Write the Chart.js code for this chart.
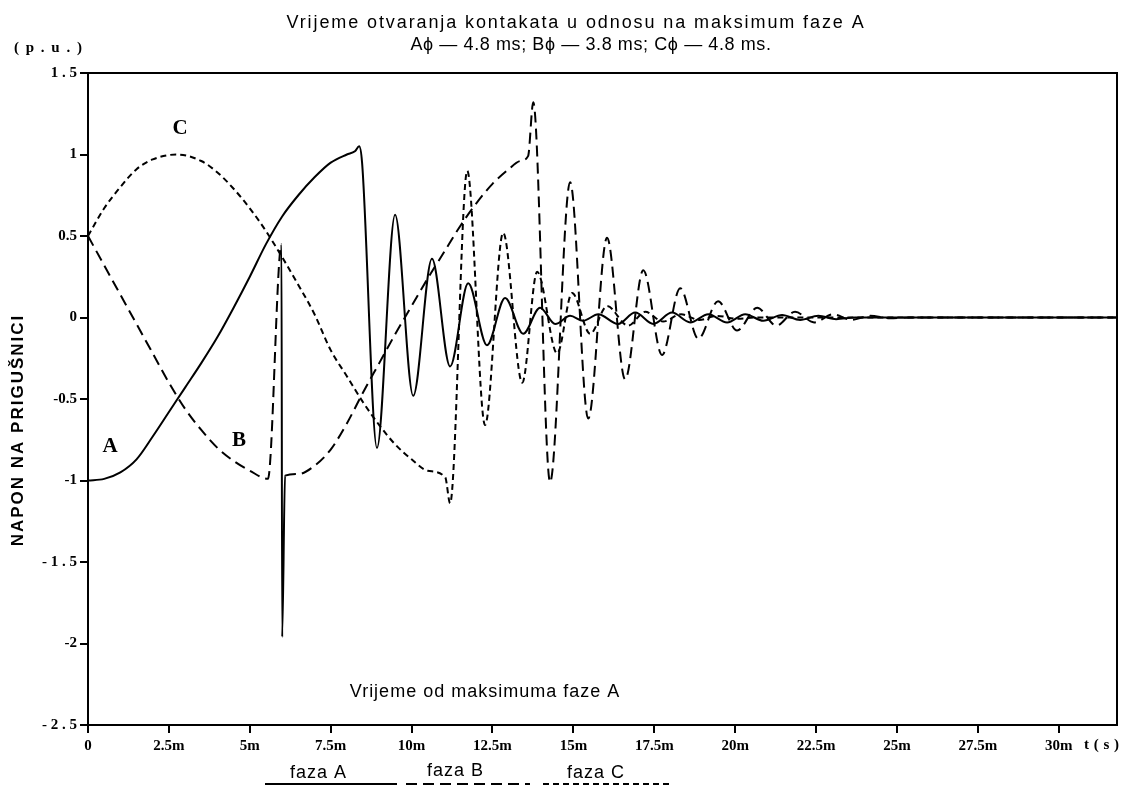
<!DOCTYPE html>
<html>
<head>
<meta charset="utf-8">
<script src="https://cdn.jsdelivr.net/npm/chart.js@4/dist/chart.umd.min.js"></script>
<style>
  body { margin: 0; background: #fff; }
  #wrap { width: 1126px; height: 787px; }
</style>
</head>
<body>
<div id="wrap"><canvas id="myChart" width="1126" height="787"></canvas></div>
<script>
// time axis in ms, voltage in p.u.
var tA = [0, 0.5, 1.0, 1.5, 2.0, 2.5, 3.0, 3.5, 4.0, 4.5, 5.0, 5.5, 6.0, 6.5, 7.0, 7.5, 8.0, 8.25, 8.38, 8.47, 8.93, 9.49, 10.05, 10.63, 11.19, 11.75, 12.33, 12.89, 13.45, 13.97, 14.44, 14.9, 15.3, 15.77, 16.38, 16.91, 17.47, 18.05, 18.61, 19.17, 19.75, 20.31, 20.87, 21.45, 22.01, 22.57, 23.12, 23.71, 31.8];
var vA = [-1, -0.99, -0.95, -0.87, -0.73, -0.58, -0.43, -0.28, -0.12, 0.06, 0.25, 0.45, 0.62, 0.75, 0.86, 0.95, 1.0, 1.02, 1.05, 0.95, -0.8, 0.63, -0.48, 0.36, -0.3, 0.21, -0.17, 0.12, -0.1, 0.06, -0.04, 0.01, -0.02, 0.02, -0.04, 0.03, -0.04, 0.03, -0.03, 0.02, -0.03, 0.02, -0.02, 0.015, -0.015, 0.01, -0.01, 0, 0];

var tB = [0, 0.5, 1.0, 1.5, 2.0, 2.5, 3.0, 3.5, 4.0, 4.5, 5.0, 5.56, 5.98, 6.0, 6.09, 6.5, 7.0, 7.5, 8.0, 8.5, 9.0, 9.5, 10.0, 10.5, 11.0, 11.5, 12.0, 12.5, 13.0, 13.35, 13.6, 13.76, 14.28, 14.9, 15.46, 16.04, 16.6, 17.16, 17.74, 18.3, 18.86, 19.47, 20.06, 20.68, 21.27, 21.85, 22.44, 23.03, 23.59, 24.17, 24.79, 25.41, 31.8];
var vB = [0.5, 0.32, 0.14, -0.04, -0.22, -0.4, -0.56, -0.69, -0.8, -0.88, -0.94, -0.99, 0.45, -1.96, -0.97, -0.96, -0.91, -0.81, -0.65, -0.46, -0.28, -0.1, 0.07, 0.24, 0.4, 0.56, 0.7, 0.82, 0.91, 0.96, 0.99, 1.32, -1.01, 0.83, -0.62, 0.49, -0.38, 0.29, -0.23, 0.18, -0.13, 0.1, -0.08, 0.06, -0.05, 0.035, -0.03, 0.02, -0.015, 0.01, -0.005, 0, 0];

var tC = [0, 0.5, 1.0, 1.5, 2.0, 2.75, 3.5, 4.0, 4.5, 5.0, 5.5, 6.0, 6.5, 7.0, 7.5, 8.0, 8.5, 9.0, 9.5, 10.0, 10.5, 11.04, 11.19, 11.72, 12.27, 12.83, 13.42, 13.88, 14.5, 14.96, 15.52, 16.04, 16.69, 17.22, 17.77, 18.33, 18.89, 19.44, 20.06, 20.68, 31.8];
var vC = [0.5, 0.67, 0.8, 0.91, 0.97, 1.0, 0.96, 0.89, 0.79, 0.67, 0.53, 0.37, 0.2, 0.02, -0.2, -0.36, -0.52, -0.66, -0.78, -0.87, -0.94, -0.98, -1.14, 0.9, -0.66, 0.52, -0.4, 0.28, -0.22, 0.15, -0.1, 0.07, -0.05, 0.035, -0.025, 0.02, -0.015, 0.01, -0.008, 0, 0];

var xTicks = [0, 2.5, 5, 7.5, 10, 12.5, 15, 17.5, 20, 22.5, 25, 27.5, 30];
var xLabels = ['0', '2.5m', '5m', '7.5m', '10m', '12.5m', '15m', '17.5m', '20m', '22.5m', '25m', '27.5m', '30m'];
var yLabels = ['- 2 . 5', '-2', '- 1 . 5', '-1', '-0.5', '0', '0.5', '1', '1 . 5'];

function pts(t, v) {
  return t.map(function (x, i) { return { x: x, y: v[i] }; });
}

var tickFont = { family: '"Liberation Serif", "DejaVu Serif", serif', size: 15, weight: 'bold' };

// texts, frame and legend
var decor = {
  id: 'decor',
  afterDraw: function (chart) {
    var ctx = chart.ctx, a = chart.chartArea;
    ctx.save();
    ctx.strokeStyle = '#000';
    ctx.lineWidth = 2;
    ctx.strokeRect(a.left, a.top, a.right - a.left, a.bottom - a.top);

    ctx.fillStyle = '#000';
    ctx.textBaseline = 'middle';
    ctx.textAlign = 'center';
    ctx.font = '18px "Liberation Sans", Arial, sans-serif';
    ctx.letterSpacing = '1.9px';
    ctx.fillText('Vrijeme otvaranja kontakata u odnosu na maksimum faze A', 576, 23);
    ctx.letterSpacing = '0.6px';
    ctx.fillText('A\u03d5 \u2014 4.8 ms; B\u03d5 \u2014 3.8 ms; C\u03d5 \u2014 4.8 ms.', 591, 45);
    ctx.letterSpacing = '1px';
    ctx.fillText('Vrijeme od maksimuma faze A', 485, 692);

    ctx.textAlign = 'left';
    ctx.fillText('faza A', 290, 773);
    ctx.fillText('faza B', 427, 771);
    ctx.fillText('faza C', 567, 773);

    ctx.font = 'bold 15px "Liberation Serif", serif';
    ctx.letterSpacing = '1.5px';
    ctx.fillText('( p . u . )', 14, 48);
    ctx.letterSpacing = '0.5px';
    ctx.fillText('t ( s )', 1084, 745);
    ctx.letterSpacing = '0px';

    ctx.textAlign = 'center';
    ctx.font = 'bold 21px "Liberation Serif", serif';
    ctx.fillText('A', 110, 447);
    ctx.fillText('B', 239, 441);
    ctx.fillText('C', 180, 129);

    ctx.save();
    ctx.translate(18, 430);
    ctx.rotate(-Math.PI / 2);
    ctx.font = 'bold 17px "Liberation Sans", Arial, sans-serif';
    ctx.letterSpacing = '2px';
    ctx.fillText('NAPON NA PRIGUŠNICI', 0, 0);
    ctx.restore();

    // legend lines
    ctx.lineWidth = 2;
    ctx.beginPath(); ctx.setLineDash([]); ctx.moveTo(265, 784); ctx.lineTo(397, 784); ctx.stroke();
    ctx.beginPath(); ctx.setLineDash([11, 6]); ctx.moveTo(406, 784); ctx.lineTo(530, 784); ctx.stroke();
    ctx.beginPath(); ctx.setLineDash([6, 4]); ctx.moveTo(543, 784); ctx.lineTo(670, 784); ctx.stroke();
    ctx.restore();
  }
};

var config = {
  type: 'line',
  data: {
    datasets: [
      {
        label: 'faza A',
        data: pts(tA, vA),
        borderColor: '#000',
        borderWidth: 2,
        pointRadius: 0,
        cubicInterpolationMode: 'monotone'
      },
      {
        label: 'faza B',
        data: pts(tB, vB),
        borderColor: '#000',
        borderWidth: 2,
        borderDash: [11, 6],
        pointRadius: 0,
        cubicInterpolationMode: 'monotone',
        segment: {
          // the spike down to -2 is drawn solid
          borderDash: function (c) {
            return (c.p0.parsed.y < -1.5 || c.p1.parsed.y < -1.5) ? [] : undefined;
          }
        }
      },
      {
        label: 'faza C',
        data: pts(tC, vC),
        borderColor: '#000',
        borderWidth: 2,
        borderDash: [6, 4],
        pointRadius: 0,
        cubicInterpolationMode: 'monotone'
      }
    ]
  },
  options: {
    responsive: false,
    animation: false,
    layout: { padding: { top: 73, right: 9, left: 0, bottom: 0 } },
    plugins: {
      legend: { display: false },
      tooltip: { enabled: false }
    },
    scales: {
      x: {
        type: 'linear',
        min: 0,
        max: 31.8,
        afterBuildTicks: function (axis) {
          axis.ticks = xTicks.map(function (v) { return { value: v }; });
        },
        afterFit: function (s) { s.height = 62; },
        grid: { display: true, drawOnChartArea: false, drawTicks: true, tickLength: 8, color: '#000', lineWidth: 2 },
        border: { display: false },
        ticks: {
          color: '#000',
          font: tickFont,
          padding: 4,
          maxRotation: 0,
          autoSkip: false,
          callback: function (v, i) { return xLabels[i]; }
        }
      },
      y: {
        min: -2.5,
        max: 1.5,
        afterFit: function (s) { s.width = 88; },
        grid: { display: true, drawOnChartArea: false, drawTicks: true, tickLength: 8, color: '#000', lineWidth: 2 },
        border: { display: false },
        ticks: {
          color: '#000',
          font: tickFont,
          padding: 3,
          stepSize: 0.5,
          autoSkip: false,
          callback: function (v, i) { return yLabels[i]; }
        }
      }
    }
  },
  plugins: [decor]
};

var myChart = new Chart(document.getElementById('myChart'), config);
</script>
</body>
</html>
